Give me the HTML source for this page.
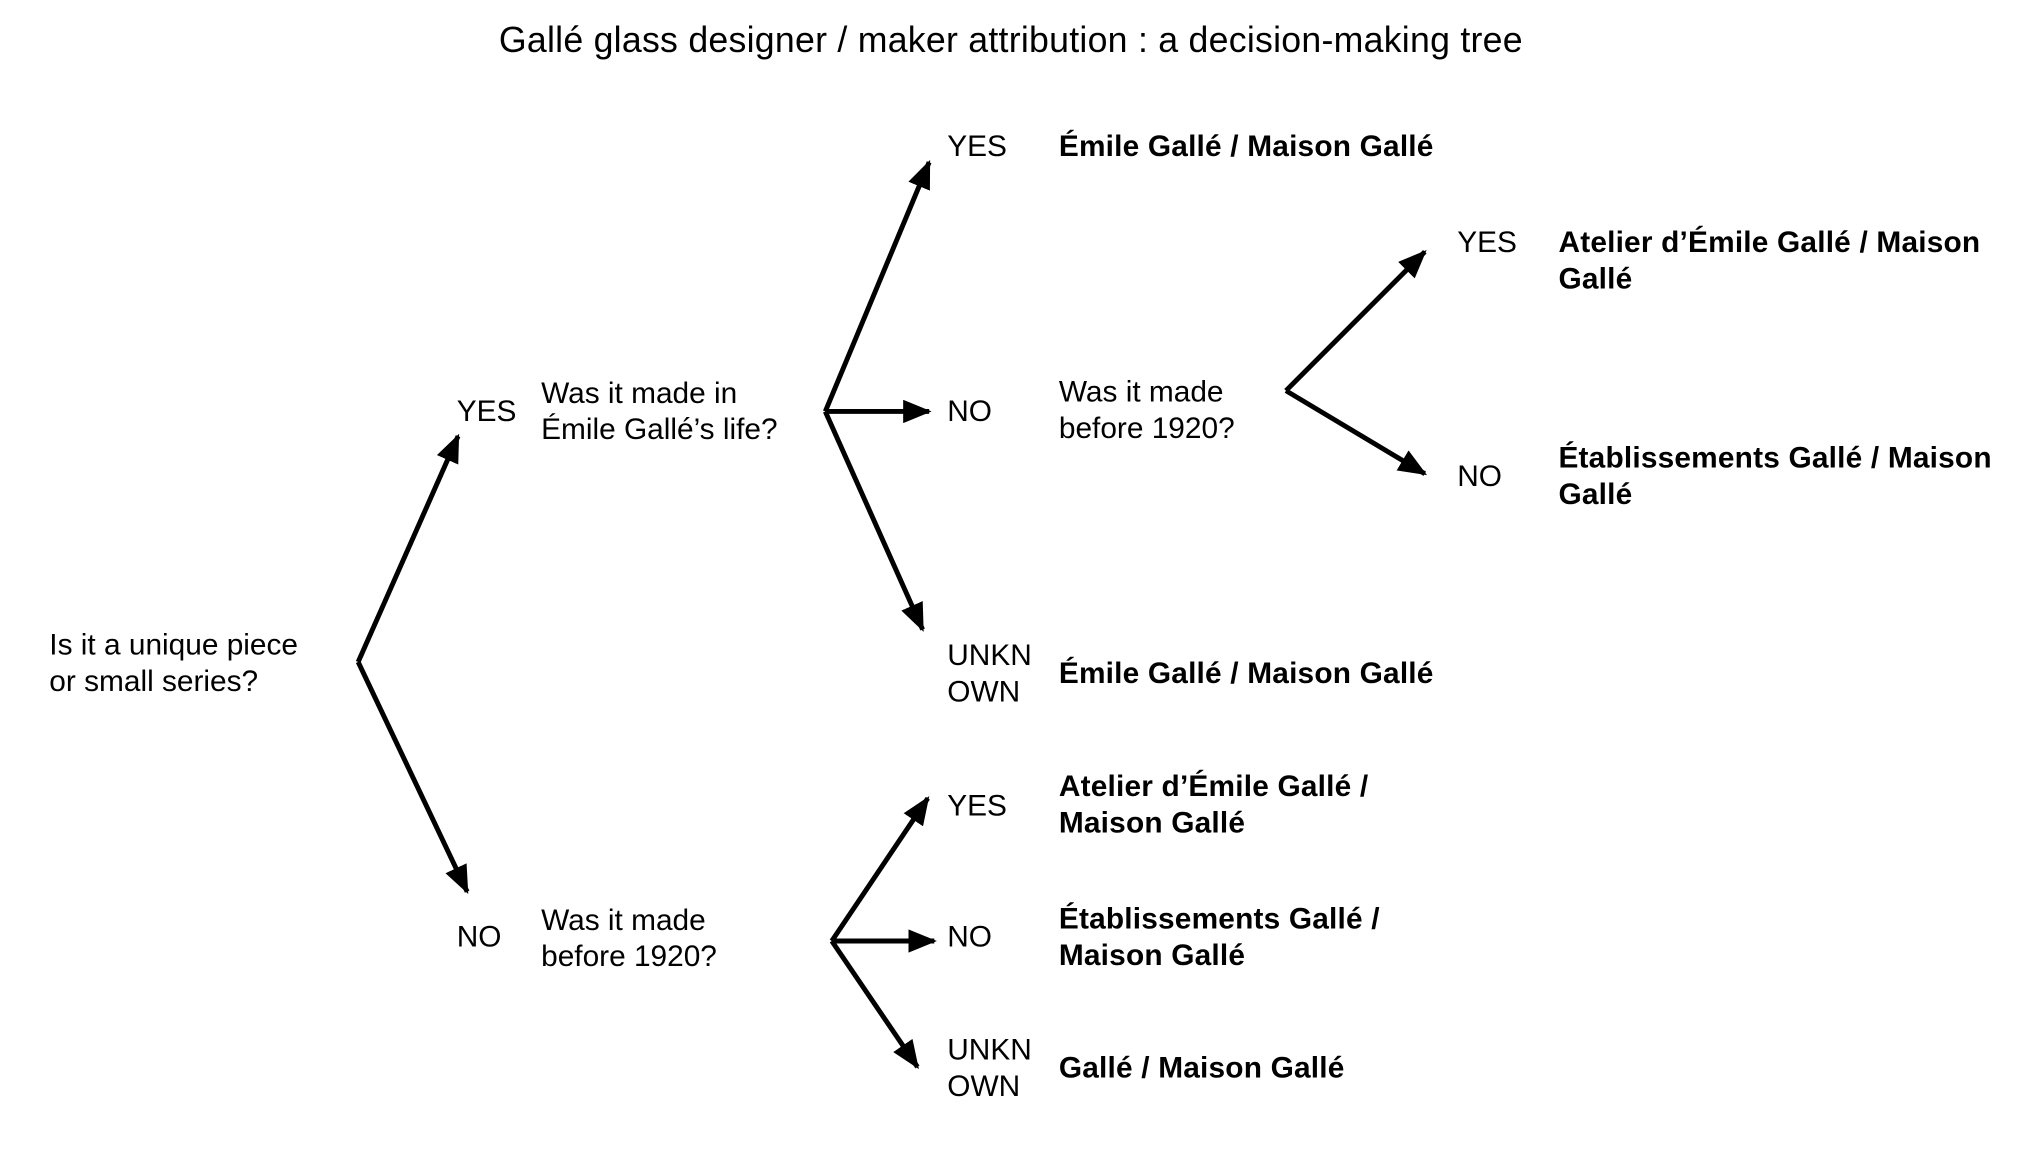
<!DOCTYPE html>
<html><head><meta charset="utf-8"><style>
html,body{margin:0;padding:0;background:#fff;}
svg{display:block;}
text{font-family:"Liberation Sans",Arial,sans-serif;font-size:23px;fill:#000;dominant-baseline:central;}
.b{font-weight:bold;letter-spacing:0.15px;}
</style></head><body>
<svg width="2036" height="1150" viewBox="0 0 1569 886" preserveAspectRatio="none" xmlns="http://www.w3.org/2000/svg">
<defs>
<marker id="a" markerUnits="userSpaceOnUse" markerWidth="22" markerHeight="18" refX="20" refY="9" orient="auto">
<path d="M0,0 L22,9 L0,18 Z" fill="#000"/>
</marker>
</defs>
<text x="779" y="31" text-anchor="middle" style="font-size:27.5px;letter-spacing:0.2px">Gallé glass designer / maker attribution : a decision-making tree</text>

<g stroke="#000" stroke-width="3.8" fill="none" marker-end="url(#a)">
<line x1="276" y1="510" x2="353" y2="336"/>
<line x1="276" y1="510" x2="360" y2="687"/>
<line x1="636" y1="317" x2="716" y2="125"/>
<line x1="636" y1="317" x2="716" y2="317"/>
<line x1="636" y1="317" x2="711" y2="485"/>
<line x1="991" y1="301" x2="1098" y2="194"/>
<line x1="991" y1="301" x2="1098" y2="365"/>
<line x1="641" y1="725" x2="715" y2="615"/>
<line x1="641" y1="725" x2="720" y2="725"/>
<line x1="641" y1="725" x2="707" y2="822"/>
</g>

<text x="38" y="497">Is it a unique piece</text>
<text x="38" y="525">or small series?</text>
<text x="352" y="317">YES</text>
<text x="352" y="722">NO</text>
<text x="417" y="303">Was it made in</text>
<text x="417" y="331">Émile Gallé’s life?</text>
<text x="730" y="113">YES</text>
<text x="730" y="317">NO</text>
<text x="730" y="505">UNKN</text>
<text x="730" y="533">OWN</text>
<text class="b" x="816" y="113">Émile Gallé / Maison Gallé</text>
<text x="816" y="302">Was it made</text>
<text x="816" y="330">before 1920?</text>
<text class="b" x="816" y="519">Émile Gallé / Maison Gallé</text>
<text x="1123" y="187">YES</text>
<text x="1123" y="367">NO</text>
<text class="b" x="1201" y="187">Atelier d’Émile Gallé / Maison</text>
<text class="b" x="1201" y="215">Gallé</text>
<text class="b" x="1201" y="353">Établissements Gallé / Maison</text>
<text class="b" x="1201" y="381">Gallé</text>
<text x="417" y="709">Was it made</text>
<text x="417" y="737">before 1920?</text>
<text x="730" y="621">YES</text>
<text x="730" y="722">NO</text>
<text x="730" y="809">UNKN</text>
<text x="730" y="837">OWN</text>
<text class="b" x="816" y="606">Atelier d’Émile Gallé /</text>
<text class="b" x="816" y="634">Maison Gallé</text>
<text class="b" x="816" y="708">Établissements Gallé /</text>
<text class="b" x="816" y="736">Maison Gallé</text>
<text class="b" x="816" y="823">Gallé / Maison Gallé</text>
</svg>
</body></html>
